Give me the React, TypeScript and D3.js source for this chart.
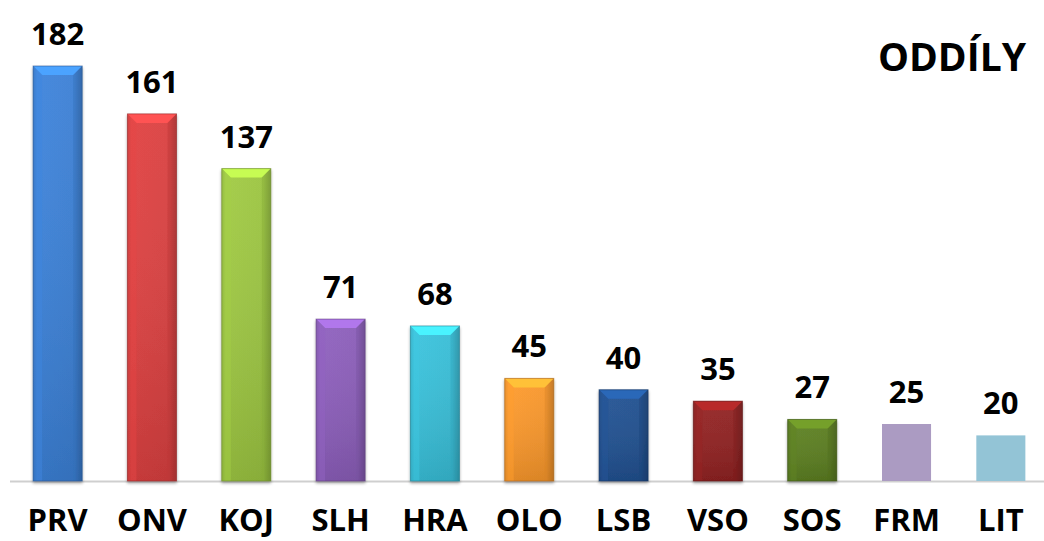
import React from 'react';
import * as d3 from 'd3';

const categories = ['PRV', 'ONV', 'KOJ', 'SLH', 'HRA', 'OLO', 'LSB', 'VSO', 'SOS', 'FRM', 'LIT'];
const values = [182, 161, 137, 71, 68, 45, 40, 35, 27, 25, 20];
const colors = ['#3b7fd4', '#d94040', '#9bc441', '#8a5db8', '#38bdd6', '#f7962b', '#21508f', '#8f2222', '#5b7d21', '#ab9bc2', '#93c4d6'];
// the last two bars are drawn flat in the original
const beveled = [true, true, true, true, true, true, true, true, true, false, false];

const W = 1044;
const H = 541;
const FONT = '"Open Sans", "Liberation Sans", sans-serif';

const App = () => {
  const x = d3.scaleBand<string>()
    .domain(categories)
    .range([10.5, 1048])
    .paddingInner(0.48)
    .paddingOuter(0.24);

  const baseY = 481;
  const y = d3.scaleLinear().domain([0, 182]).range([baseY, 66]);

  const bw = x.bandwidth();

  return (
    <>
      <style>{`body { margin: 0; } svg { display: block; }`}</style>
      <svg width={W} height={H} style={{ background: '#fff' }}>
        <defs>
          {colors.map((c, i) => {
            const base = d3.color(c)!;
            return (
              <React.Fragment key={i}>
                <linearGradient id={`body${i}`} x1="0" y1="0" x2="1" y2="0">
                  <stop offset="0" stopColor={base.darker(0.5).toString()} />
                  <stop offset="0.08" stopColor={base.brighter(0.1).toString()} />
                  <stop offset="0.85" stopColor={c} />
                  <stop offset="1" stopColor={base.darker(0.9).toString()} />
                </linearGradient>
                <linearGradient id={`shade${i}`} x1="0" y1="0" x2="0" y2="1">
                  <stop offset="0" stopColor="#fff" stopOpacity={0.05} />
                  <stop offset="1" stopColor="#000" stopOpacity={0.12} />
                </linearGradient>
              </React.Fragment>
            );
          })}
          <filter id="shadow" x="-20%" y="-20%" width="140%" height="140%">
            <feGaussianBlur in="SourceAlpha" stdDeviation="1.5" />
            <feOffset dx="0" dy="2" result="b" />
            <feComponentTransfer><feFuncA type="linear" slope="0.35" /></feComponentTransfer>
            <feMerge><feMergeNode /><feMergeNode in="SourceGraphic" /></feMerge>
          </filter>
        </defs>

        {/* baseline */}
        <line x1={10} x2={1044} y1={baseY + 0.5} y2={baseY + 0.5} stroke="#cfcfcf" strokeWidth={2} />

        {categories.map((cat, i) => {
          const x0 = x(cat)!;
          const y0 = y(values[i]);
          const h = baseY - y0;
          const c = colors[i];
          const base = d3.color(c)!;
          const bev = Math.min(9, h / 4);
          return (
            <g key={cat}>
              {beveled[i] ? (
                <g filter="url(#shadow)">
                  <rect x={x0} y={y0} width={bw} height={h} fill={`url(#body${i})`} />
                  <rect x={x0} y={y0} width={bw} height={h} fill={`url(#shade${i})`} />
                  <path
                    d={`M${x0},${y0} L${x0 + bw},${y0} L${x0 + bw - bev},${y0 + bev} L${x0 + bev},${y0 + bev} Z`}
                    fill={base.brighter(0.7).toString()}
                  />
                  <path
                    d={`M${x0},${y0} L${x0 + bev},${y0 + bev} L${x0 + bev},${baseY} L${x0},${baseY} Z`}
                    fill={base.brighter(0.15).toString()}
                    opacity={0.5}
                  />
                  <path
                    d={`M${x0 + bw},${y0} L${x0 + bw - bev},${y0 + bev} L${x0 + bw - bev},${baseY} L${x0 + bw},${baseY} Z`}
                    fill={base.darker(0.4).toString()}
                    opacity={0.45}
                  />
                  <rect x={x0} y={y0} width={bw} height={h} fill="none" stroke={base.darker(1).toString()} strokeWidth={1} strokeOpacity={0.6} />
                </g>
              ) : (
                <rect x={x0} y={y0} width={bw} height={h} fill={c} />
              )}
              <text
                x={x0 + bw / 2}
                y={y0 - 21}
                textAnchor="middle"
                fontFamily={FONT}
                fontWeight="bold"
                fontSize={31}
                fill="#000"
              >
                {values[i]}
              </text>
              <text
                x={x0 + bw / 2}
                y={531}
                textAnchor="middle"
                fontFamily={FONT}
                fontWeight="bold"
                fontSize={31}
                fill="#000"
              >
                {cat}
              </text>
            </g>
          );
        })}

        <text x={1026} y={71} textAnchor="end" fontFamily={FONT} fontWeight="bold" fontSize={39} fill="#000">
          ODDÍLY
        </text>
      </svg>
    </>
  );
};

export default App;
